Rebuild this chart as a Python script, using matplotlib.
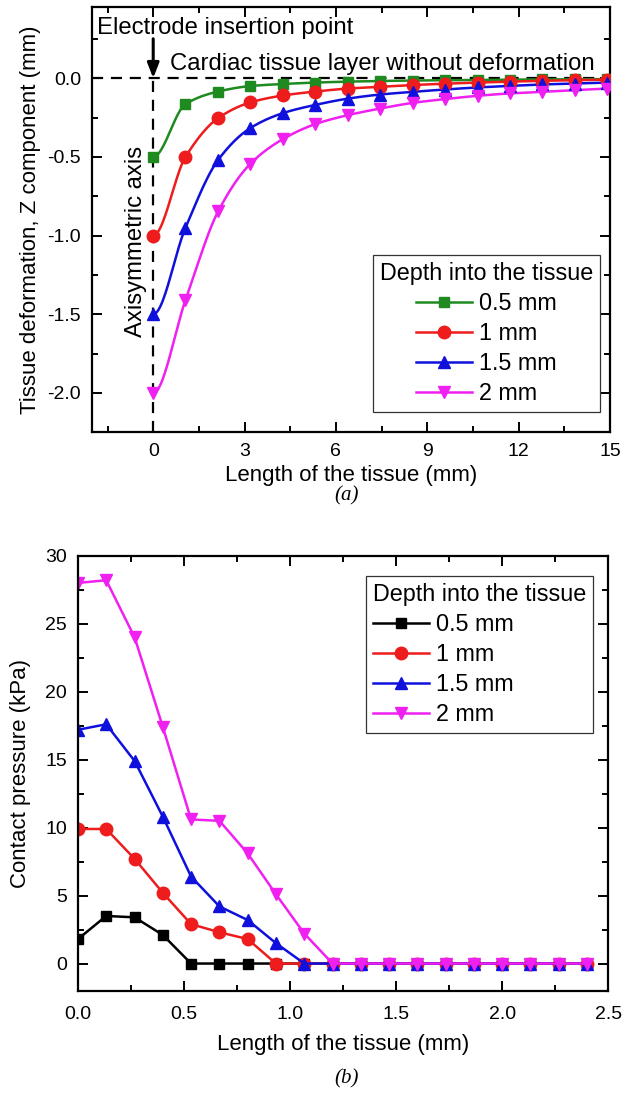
import numpy as np
import matplotlib
matplotlib.use("Agg")
import matplotlib.pyplot as plt
from matplotlib.ticker import MultipleLocator, FormatStrFormatter

plt.rcParams['font.family'] = ['Liberation Sans', 'DejaVu Sans']

# ---------------- data: (a) tissue deformation ----------------
depth_labels = ["0.5 mm", "1 mm", "1.5 mm", "2 mm"]
x_def = [0, 1.06, 2.13, 3.19, 4.26, 5.32, 6.39, 7.45, 8.52, 9.58, 10.65, 11.71, 12.78, 13.84, 14.91]
def_05 = [-0.50, -0.165, -0.085, -0.050, -0.037, -0.028, -0.022, -0.018, -0.015, -0.013, -0.011, -0.009, -0.008, -0.007, -0.006]
def_10 = [-1.00, -0.50, -0.254, -0.154, -0.110, -0.085, -0.066, -0.055, -0.044, -0.035, -0.028, -0.022, -0.017, -0.013, -0.009]
def_15 = [-1.50, -0.95, -0.52, -0.317, -0.222, -0.170, -0.130, -0.104, -0.087, -0.072, -0.059, -0.049, -0.040, -0.034, -0.028]
def_20 = [-2.00, -1.41, -0.847, -0.544, -0.387, -0.292, -0.235, -0.193, -0.157, -0.133, -0.112, -0.097, -0.087, -0.076, -0.066]

# ---------------- data: (b) contact pressure ----------------
x_pr = [0, 0.133, 0.267, 0.4, 0.533, 0.667, 0.8, 0.933, 1.067, 1.2, 1.333, 1.467, 1.6, 1.733, 1.867, 2.0, 2.133, 2.267, 2.4]
pr_05 = [1.8, 3.5, 3.4, 2.1, 0, 0, 0, 0, 0, 0, 0, 0, 0, 0, 0, 0, 0, 0, 0]
pr_10 = [9.9, 9.9, 7.7, 5.2, 2.9, 2.3, 1.8, 0, 0, 0, 0, 0, 0, 0, 0, 0, 0, 0, 0]
pr_15 = [17.2, 17.6, 14.9, 10.8, 6.4, 4.2, 3.2, 1.5, 0, 0, 0, 0, 0, 0, 0, 0, 0, 0, 0]
pr_20 = [28.0, 28.2, 24.0, 17.4, 10.6, 10.5, 8.1, 5.1, 2.2, 0, 0, 0, 0, 0, 0, 0, 0, 0, 0]

colors_a = ["#1f8a1f", "#ee1c1c", "#1010dd", "#f020f0"]
colors_b = ["#000000", "#ee1c1c", "#1010dd", "#f020f0"]
markers = ["s", "o", "^", "v"]
msizes = [7, 9, 9, 9]

FS_TICK = 14
FS_LAB = 16
FS_LEG = 16.8
FS_ANN = 17.2


def smooth_line(x, y, n=24):
    """Monotone cubic Hermite rendering of the connecting line (zero slope on the symmetry axis)."""
    x = np.asarray(x, float)
    y = np.asarray(y, float)
    h = np.diff(x)
    d = np.diff(y) / h
    m = np.zeros_like(y)
    for k in range(1, len(x) - 1):
        if d[k - 1] * d[k] > 0:
            w1 = 2 * h[k] + h[k - 1]
            w2 = h[k] + 2 * h[k - 1]
            m[k] = (w1 + w2) / (w1 / d[k - 1] + w2 / d[k])
    m[0] = 0.0
    m[-1] = d[-1]
    xs, ys = [], []
    for k in range(len(x) - 1):
        t = np.linspace(0, 1, n, endpoint=(k == len(x) - 2))
        h00 = 2 * t**3 - 3 * t**2 + 1
        h10 = t**3 - 2 * t**2 + t
        h01 = -2 * t**3 + 3 * t**2
        h11 = t**3 - t**2
        xs.append(x[k] + t * h[k])
        ys.append(h00 * y[k] + h10 * h[k] * m[k] + h01 * y[k + 1] + h11 * h[k] * m[k + 1])
    return np.concatenate(xs), np.concatenate(ys)


def style_axes(ax, xpad=8):
    for s in ax.spines.values():
        s.set_linewidth(1.6)
    ax.tick_params(which='both', direction='in', top=True, right=True, width=1.4,
                   labelsize=FS_TICK, pad=8)
    ax.tick_params(axis='x', which='both', pad=xpad)
    ax.tick_params(which='major', length=7)
    ax.tick_params(which='minor', length=4)


def make_legend(ax, loc, anchor, align):
    leg = ax.legend(title="Depth into the tissue", loc=loc,
                    bbox_to_anchor=anchor, borderaxespad=0, fontsize=FS_LEG,
                    title_fontsize=FS_LEG, fancybox=False, edgecolor='#333333',
                    framealpha=1, handlelength=2.4, handletextpad=0.3,
                    labelspacing=0.3, borderpad=0.3, alignment=align)
    leg.get_frame().set_linewidth(0.9)
    return leg


fig = plt.figure(figsize=(6.34, 10.94), dpi=100)

# ================= (a) =================
ax1 = fig.add_axes([0.1456, 0.6048, 0.8165, 0.3885])
ax1.axhline(0, color='black', lw=1.6, ls=(0, (5, 3.5)), zorder=1)
ax1.plot([0, 0], [-2.25, 0], color='black', lw=1.6, ls=(0, (5, 3.5)), zorder=1)

series_a = [def_05, def_10, def_15, def_20]
for ys, c, mk, ms, lab in zip(series_a, colors_a, markers, msizes, depth_labels):
    sx, sy = smooth_line(x_def, ys)
    ax1.plot(sx, sy, color=c, lw=1.8, zorder=3)
    ax1.plot(x_def, ys, ls='none', marker=mk, ms=ms, color=c, zorder=4)
    ax1.plot([], [], color=c, lw=1.8, marker=mk, ms=ms, label=lab)

ax1.set_xlim(-2, 15)
ax1.set_ylim(-2.25, 0.45)
ax1.xaxis.set_major_locator(MultipleLocator(3))
ax1.xaxis.set_minor_locator(MultipleLocator(1.5))
ax1.yaxis.set_major_locator(MultipleLocator(0.5))
ax1.yaxis.set_minor_locator(MultipleLocator(0.25))
ax1.yaxis.set_major_formatter(FormatStrFormatter('%.1f'))
style_axes(ax1, xpad=8)
ax1.set_xlabel("Length of the tissue (mm)", fontsize=FS_LAB, labelpad=3)
ax1.set_ylabel("Tissue deformation, Z component (mm)", fontsize=FS_LAB, labelpad=5)

ax1.text(-1.83, 0.32, "Electrode insertion point", fontsize=FS_ANN, ha='left', va='center')
ax1.text(0.55, 0.087, "Cardiac tissue layer without deformation", fontsize=FS_ANN,
         ha='left', va='center')
ax1.annotate("", xy=(0, 0.0), xytext=(0, 0.25),
             arrowprops=dict(arrowstyle='-|>,head_length=0.9,head_width=0.35',
                             color='black', lw=2.2, shrinkA=0, shrinkB=0))
ax1.text(-0.55, -1.04, "Axisymmetric axis", fontsize=FS_ANN, rotation=90,
         ha='center', va='center')

make_legend(ax1, 'lower right', (0.981, 0.048), 'center')

fig.text(0.547, 0.5465, "(a)", fontsize=15, style='italic', family='Liberation Serif',
         ha='center', va='center')

# ================= (b) =================
ax2 = fig.add_axes([0.1230, 0.0944, 0.8365, 0.3976])
series_b = [pr_05, pr_10, pr_15, pr_20]
for ys, c, mk, ms, lab in zip(series_b, colors_b, markers, msizes, depth_labels):
    ax2.plot(x_pr, ys, color=c, lw=1.8, marker=mk, ms=ms, label=lab)

ax2.set_xlim(0, 2.5)
ax2.set_ylim(-2, 30)
ax2.xaxis.set_major_locator(MultipleLocator(0.5))
ax2.xaxis.set_minor_locator(MultipleLocator(0.25))
ax2.xaxis.set_major_formatter(FormatStrFormatter('%.1f'))
ax2.yaxis.set_major_locator(MultipleLocator(5))
ax2.yaxis.set_minor_locator(MultipleLocator(2.5))
style_axes(ax2, xpad=11)
ax2.set_xlabel("Length of the tissue (mm)", fontsize=FS_LAB, labelpad=8)
ax2.set_ylabel("Contact pressure (kPa)", fontsize=FS_LAB, labelpad=10)

make_legend(ax2, 'upper right', (0.971, 0.953), 'left')

fig.text(0.547, 0.0140, "(b)", fontsize=15, style='italic', family='Liberation Serif',
         ha='center', va='center')

fig.savefig("out.png", dpi=100, facecolor='white')
